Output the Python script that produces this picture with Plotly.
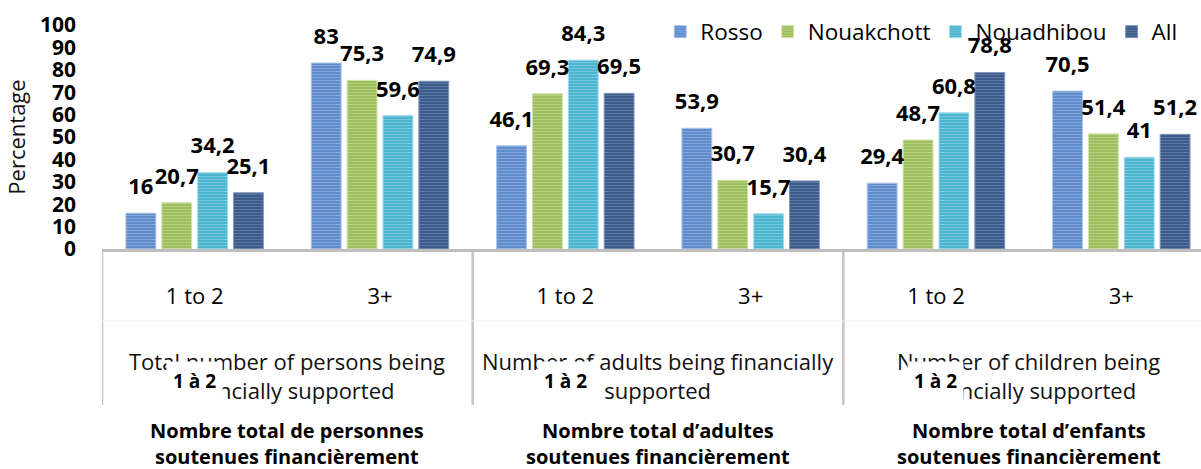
import plotly.graph_objects as go

# données
sous_categories = ["1 to 2", "3+", "1 to 2", "3+", "1 to 2", "3+"]
groupes_en = [
    "Total number of persons being<br>financially supported",
    "Number of adults being financially<br>supported",
    "Number of children being<br>financially supported",
]
groupes_fr = [
    "Nombre total de personnes<br>soutenues financièrement",
    "Nombre total d’adultes<br>soutenues financièrement",
    "Nombre total d’enfants<br>soutenues financièrement",
]
etiquette_fr = "1 à 2"
rosso = [16, 83, 46.1, 53.9, 29.4, 70.5]
nouakchott = [20.7, 75.3, 69.3, 30.7, 48.7, 51.4]
nouadhibou = [34.2, 59.6, 84.3, 15.7, 60.8, 41]
all_villes = [25.1, 74.9, 69.5, 30.4, 78.8, 51.2]
y_ticks = [0, 10, 20, 30, 40, 50, 60, 70, 80, 90, 100]

series = [
    ("Rosso", rosso, "#5C89CA", "#A9C3EA"),
    ("Nouakchott", nouakchott, "#9BBD58", "#D2E3AA"),
    ("Nouadhibou", nouadhibou, "#47B2CE", "#A2DCEB"),
    ("All", all_villes, "#375987", "#8298BA"),
]

x_pos = list(range(len(sous_categories)))

FONT = "Open Sans"
H_PLOT = 224
Y_AXE = 249


def py(pixel):
    # pixel vertical -> coordonnée papier
    return (Y_AXE - pixel) / H_PLOT


fig = go.Figure()

for nom, vals, couleur, clair in series:
    fig.add_trace(go.Bar(
        x=x_pos,
        y=vals,
        name=nom,
        marker=dict(
            color=couleur,
            line=dict(color=clair, width=1),
            pattern=dict(shape="-", size=3, solidity=0.4,
                         fgcolor=clair, bgcolor=couleur),
        ),
        hoverinfo="skip",
    ))

# étiquettes de valeur au-dessus des barres
for nom, vals, couleur, clair in series:
    fig.add_trace(go.Scatter(
        x=x_pos,
        y=vals,
        mode="markers+text",
        text=[f"{v:g}".replace(".", ",") for v in vals],
        textposition="top center",
        textfont=dict(family=FONT, size=22, color="black", weight="bold"),
        marker=dict(size=20, opacity=0),
        showlegend=False,
        cliponaxis=False,
        hoverinfo="skip",
    ))

# libellés des groupes
for i in range(len(groupes_en)):
    sous = x_pos[2 * i:2 * i + 2]
    centre = sum(sous) / len(sous)
    fig.add_annotation(x=centre, xref="x", y=py(344), yref="paper",
                       text=groupes_en[i], showarrow=False, yanchor="top",
                       font=dict(family=FONT, size=22, color="#111111"))
    fig.add_annotation(x=centre, xref="x", y=py(415), yref="paper",
                       text=groupes_fr[i], showarrow=False, yanchor="top",
                       font=dict(family=FONT, size=20, color="black", weight="bold"))
    fig.add_annotation(x=sous[0], xref="x", y=py(381), yref="paper",
                       text=etiquette_fr, showarrow=False, yanchor="middle",
                       bgcolor="white", borderpad=6,
                       font=dict(family=FONT, size=19, color="black", weight="bold"))

# séparateurs de l'axe
for xb in [-0.5, 1.5, 3.5]:
    fig.add_shape(type="line", xref="x", yref="paper", x0=xb, x1=xb,
                  y0=0, y1=py(405), line=dict(color="#C4C4C4", width=2.5),
                  layer="below")
fig.add_shape(type="line", xref="x", yref="paper", x0=-0.5, x1=6,
              y0=py(321), y1=py(321), line=dict(color="#F0F0F0", width=1),
              layer="below")

fig.update_layout(
    width=1201,
    height=469,
    margin=dict(l=102, r=0, t=Y_AXE - H_PLOT, b=469 - Y_AXE),
    plot_bgcolor="white",
    paper_bgcolor="white",
    barmode="group",
    bargap=0.226,
    bargroupgap=0.167,
    scattermode="group",
    scattergap=0.226,
    separators=", ",
    font=dict(family=FONT, color="black"),
    showlegend=True,
    legend=dict(
        orientation="h",
        x=0.508, xanchor="left",
        y=py(32), yanchor="middle",
        font=dict(family=FONT, size=22.5, color="black"),
        bgcolor="rgba(0,0,0,0)",
        traceorder="normal",
    ),
)

fig.update_xaxes(
    range=[-0.5, 5.43],
    tickvals=x_pos,
    ticktext=sous_categories,
    tickfont=dict(family=FONT, size=22, color="black"),
    ticklabelstandoff=26,
    showline=True,
    linecolor="#BFBFBF",
    linewidth=3,
    showgrid=False,
    zeroline=False,
    ticks="",
)

fig.update_yaxes(
    range=[0, 100],
    tickvals=y_ticks,
    tickfont=dict(family=FONT, size=21, color="black", weight="bold"),
    ticklabelstandoff=25,
    showgrid=False,
    zeroline=False,
    showline=False,
    ticks="",
    title=dict(text="Percentage", standoff=8,
               font=dict(family=FONT, size=22, color="#111111")),
)

fig.write_html("out.html", config={"displayModeBar": False},
               post_script="document.body.style.margin='0';")
